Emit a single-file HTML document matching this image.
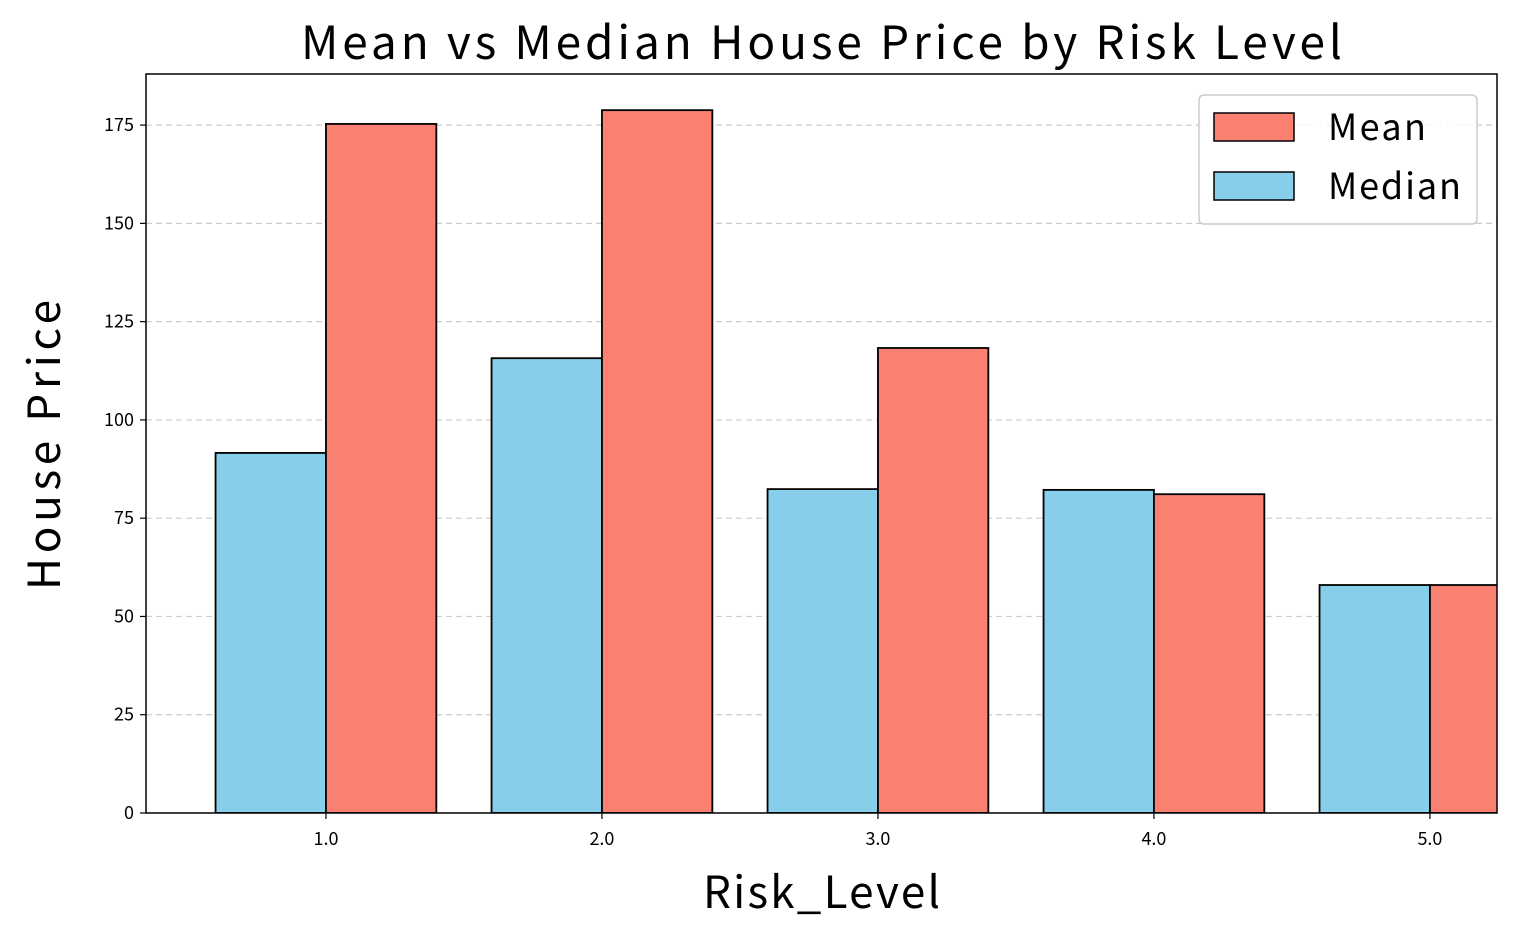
<!DOCTYPE html>
<html><head><meta charset="utf-8">
<style>
html,body{margin:0;padding:0;background:#fff;}
svg text{font-family:"Noto Sans CJK KR","Liberation Sans",sans-serif;}
</style></head>
<body>
<svg id="chart" width="1517" height="941" xmlns="http://www.w3.org/2000/svg">
<defs><clipPath id="plotclip"><rect x="146" y="74" width="1351" height="739"/></clipPath></defs>
<g id="grid"></g>
<g id="bars" clip-path="url(#plotclip)"></g>
<rect x="146" y="74" width="1351" height="739" fill="none" stroke="#000" stroke-width="1.5"/>
<g id="ticks"></g>
<text x="301" y="59" font-size="46" textLength="1041" lengthAdjust="spacing">Mean vs Median House Price by Risk Level</text>
<text x="703" y="908" font-size="44" textLength="237" lengthAdjust="spacing">Risk_Level</text>
<text transform="translate(60,590) rotate(-90)" font-size="44" textLength="290" lengthAdjust="spacing">House Price</text>
<g>
<rect x="1199" y="95" width="278" height="129" rx="5" fill="#fff" fill-opacity="0.8" stroke="#ccc" stroke-width="1.5"/>
<g>
<rect x="1214" y="113" width="80" height="28" fill="#fa8072" stroke="#000" stroke-width="1.5"/>
<text x="1328" y="140" font-size="36" textLength="98" lengthAdjust="spacing">Mean</text></g>
<g>
<rect x="1214" y="172" width="80" height="28" fill="#87ceeb" stroke="#000" stroke-width="1.5"/>
<text x="1328" y="199" font-size="36" textLength="133" lengthAdjust="spacing">Median</text></g>
</g>
</svg>
<script>
const categories=[1.0,2.0,3.0,4.0,5.0];
const categoryLabels=["1.0","2.0","3.0","4.0","5.0"];
const medianValues=[91.6,115.7,82.4,82.2,58.0];
const meanValues=[175.3,178.8,118.3,81.1,58.0];
const yTicks=[0,25,50,75,100,125,150,175];

const NS="http://www.w3.org/2000/svg";
const X0=146,X1=1497,Y0=813,Y1=74;
const xMin=0.348,xMax=5.243,yMin=0,yMax=188;
const xs=v=>X0+(v-xMin)/(xMax-xMin)*(X1-X0);
const ys=v=>Y0-(v-yMin)/(yMax-yMin)*(Y0-Y1);
function mk(tag,attrs,parent){const e=document.createElementNS(NS,tag);for(const k in attrs)e.setAttribute(k,attrs[k]);parent.appendChild(e);return e;}
const grid=document.getElementById('grid'),bars=document.getElementById('bars'),ticks=document.getElementById('ticks');
yTicks.forEach(t=>{
  const y=ys(t);
  if(t>0){const g=mk('line',{x1:X0,x2:X1,y1:y,y2:y,stroke:'#ccc','stroke-dasharray':'6,4','stroke-width':1.2},grid);
  
  }
  const tl=mk('line',{x1:X0-6,x2:X0,y1:y,y2:y,stroke:'#000','stroke-width':1.2},ticks);
  
  
  const tx=mk('text',{x:X0-12,y:y+6,'font-size':18,'text-anchor':'end'},ticks);tx.textContent=t;
  
  
});
const w=0.4;
categories.forEach((c,i)=>{
  const xm=xs(c-w),xc=xs(c),xr=xs(c+w);
  const b1=mk('rect',{x:xm,y:ys(medianValues[i]),width:xc-xm,height:ys(0)-ys(medianValues[i]),fill:'#87ceeb',stroke:'#000','stroke-width':1.8},bars);
  
  
  const b2=mk('rect',{x:xc,y:ys(meanValues[i]),width:xr-xc,height:ys(0)-ys(meanValues[i]),fill:'#fa8072',stroke:'#000','stroke-width':1.8},bars);
  
  
  const tl=mk('line',{x1:xc,x2:xc,y1:Y0,y2:Y0+6,stroke:'#000','stroke-width':1.2},ticks);
  
  
  const tx=mk('text',{x:xc,y:Y0+32,'font-size':18,'text-anchor':'middle'},ticks);tx.textContent=categoryLabels[i];
  
  
});
</script>
</body></html>
